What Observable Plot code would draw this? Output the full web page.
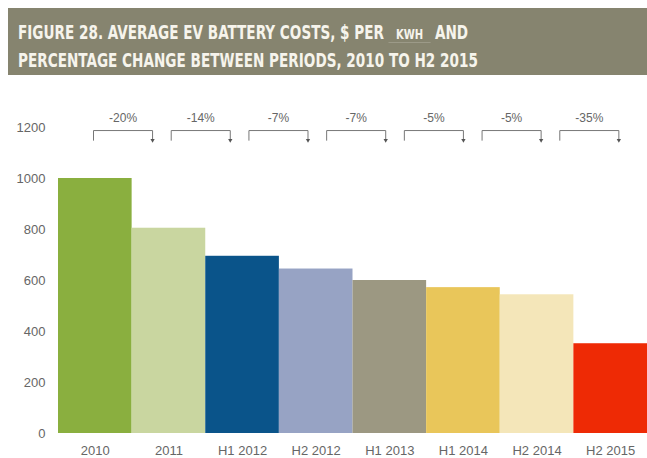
<!DOCTYPE html>
<html>
<head>
<meta charset="utf-8">
<script src="https://cdn.jsdelivr.net/npm/d3@7"></script>
<script src="https://cdn.jsdelivr.net/npm/@observablehq/plot@0.6"></script>
<style>
  html, body { margin: 0; padding: 0; background: #fff; }
  #page { position: relative; width: 647px; height: 458px; overflow: hidden; }
  #title {
    position: absolute; left: 8px; top: 8px; width: 639px; height: 67px;
    background: #86846f; color: #f6f4ec; box-sizing: border-box;
    padding: 11px 0 0 10px;
    font-family: "DejaVu Sans Condensed", "DejaVu Sans", sans-serif;
    font-weight: bold; font-size: 19px; line-height: 26px; white-space: nowrap;
  }
  #title .inner { display: inline-block; transform: scaleX(0.795); transform-origin: 0 0; }
  #title .unit { font-size: 14px; padding: 0 9px; border-bottom: 1px solid #9c9a88; }
  #chart { position: absolute; left: 0; top: 80px; }
  #brackets { position: absolute; left: 0; top: 80px; }
</style>
</head>
<body>
<div id="page">
  <div id="title"><span class="inner">FIGURE 28. AVERAGE EV BATTERY COSTS, $ PER <span class="unit">KWH</span> AND<br>PERCENTAGE CHANGE BETWEEN PERIODS, 2010 TO H2 2015</span></div>
  <div id="chart"></div>
  <div id="brackets"></div>
</div>
<script>
const periods = ["2010", "2011", "H1 2012", "H2 2012", "H1 2013", "H1 2014", "H2 2014", "H2 2015"];
const costs = [1000, 805, 695, 645, 600, 572, 544, 352];
const colors = ["#8aaf3f", "#c9d6a0", "#0a548a", "#97a3c4", "#9c9882", "#e9c65a", "#f4e6b9", "#ee2a05"];
const changes = ["-20%", "-14%", "-7%", "-7%", "-5%", "-5%", "-35%"];
const yTicks = [0, 200, 400, 600, 800, 1000, 1200];

const W = 647, H = 378, mT = 47, mB = 25;
const data = periods.map((p, i) => ({period: p, cost: costs[i], color: colors[i]}));

const chart = Plot.plot({
  width: W, height: H,
  marginLeft: 58, marginRight: 0, marginTop: mT, marginBottom: mB,
  style: {fontFamily: "'Liberation Sans', Arial, sans-serif", fontSize: "13px", color: "#666", background: "transparent"},
  x: {domain: periods, padding: 0, round: false, label: null, tickSize: 0, tickPadding: 12},
  y: {domain: [0, 1200], ticks: yTicks, tickFormat: d => String(d), label: null, tickSize: 0, tickPadding: 13},
  marks: [
    Plot.barY(data, {x: "period", y: "cost", fill: "color", inset: 0}),
  ]
});
document.getElementById("chart").appendChild(chart);

// Percentage-change brackets between consecutive periods
const brk = changes.map((c, i) => ({i, label: c}));
const span = 0.76;
const pts = brk.flatMap(d => [
  {i: d.i, x: d.i, y: 1150},
  {i: d.i, x: d.i, y: 1188},
  {i: d.i, x: d.i + span, y: 1188},
  {i: d.i, x: d.i + span, y: 1152}
]);
const brackets = Plot.plot({
  width: W, height: H,
  marginLeft: 93, marginRight: 10, marginTop: mT, marginBottom: mB,
  style: {fontFamily: "'Liberation Sans', Arial, sans-serif", fontSize: "12px", color: "#666", background: "transparent", overflow: "visible"},
  x: {domain: [0, 7], axis: null},
  y: {domain: [0, 1200], axis: null},
  marks: [
    Plot.line(pts, {x: "x", y: "y", z: "i", stroke: "#777", strokeWidth: 1, curve: "linear"}),
    Plot.dot(brk, {x: d => d.i + span, y: 1150, symbol: "triangle", r: 1.6, fill: "#555", rotate: 180}),
    Plot.text(brk, {x: d => d.i + span / 2, y: 1235, text: "label", fill: "#666"})
  ]
});
document.getElementById("brackets").appendChild(brackets);
</script>
</body>
</html>
